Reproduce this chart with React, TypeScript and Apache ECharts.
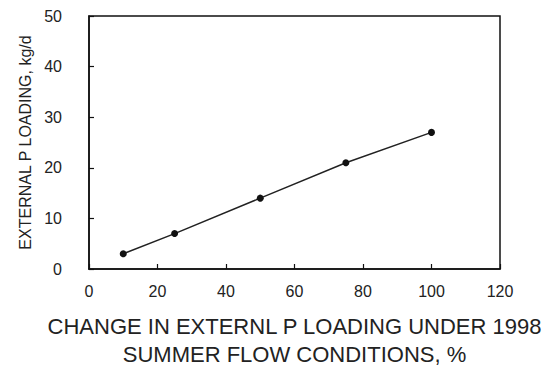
import React, { useEffect, useRef } from "react";
import * as echarts from "echarts";

const changePct = [10, 25, 50, 75, 100];
const loading = [3, 7, 14, 21, 27];
const xAxisTitle = "CHANGE IN EXTERNL P LOADING UNDER 1998\nSUMMER FLOW CONDITIONS, %";
const yAxisTitle = "EXTERNAL P LOADING, kg/d";

const FONT = 'Arial, "Liberation Sans", sans-serif';

export default function App() {
  const ref = useRef<HTMLDivElement>(null);
  useEffect(() => {
    if (!ref.current) return;
    const chart = echarts.init(ref.current, null, { renderer: "svg" });
    chart.setOption({
      animation: false,
      backgroundColor: "#fff",
      grid: {
        left: 89,
        right: 52,
        top: 16,
        bottom: 100,
        show: true,
        borderColor: "#111",
        borderWidth: 1.5,
      },
      xAxis: {
        type: "value",
        min: 0,
        max: 120,
        interval: 20,
        name: xAxisTitle,
        nameLocation: "middle",
        nameGap: 43,
        nameTextStyle: { fontSize: 22, color: "#222", fontFamily: FONT, lineHeight: 28 },
        axisLine: { show: true, lineStyle: { color: "#111", width: 1.5 } },
        axisTick: { show: true, inside: true, length: 5, lineStyle: { color: "#111", width: 1.2 } },
        axisLabel: { fontSize: 16, color: "#222", fontFamily: FONT, margin: 14 },
        splitLine: { show: false },
      },
      yAxis: {
        type: "value",
        min: 0,
        max: 50,
        interval: 10,
        name: yAxisTitle,
        nameLocation: "middle",
        nameGap: 56,
        nameRotate: 90,
        nameTextStyle: { fontSize: 16, color: "#222", fontFamily: FONT },
        axisLine: { show: true, lineStyle: { color: "#111", width: 1.5 } },
        axisTick: { show: true, inside: true, length: 5, lineStyle: { color: "#111", width: 1.2 } },
        axisLabel: { fontSize: 16, color: "#222", fontFamily: FONT, margin: 27 },
        splitLine: { show: false },
      },
      series: [
        {
          type: "line",
          data: changePct.map((x, i) => [x, loading[i]]),
          symbol: "circle",
          symbolSize: 7,
          itemStyle: { color: "#111" },
          lineStyle: { color: "#222", width: 1.5 },
        },
      ],
    });
    return () => chart.dispose();
  }, []);
  return <div ref={ref} style={{ width: 552, height: 373, margin: -8 }} />;
}
